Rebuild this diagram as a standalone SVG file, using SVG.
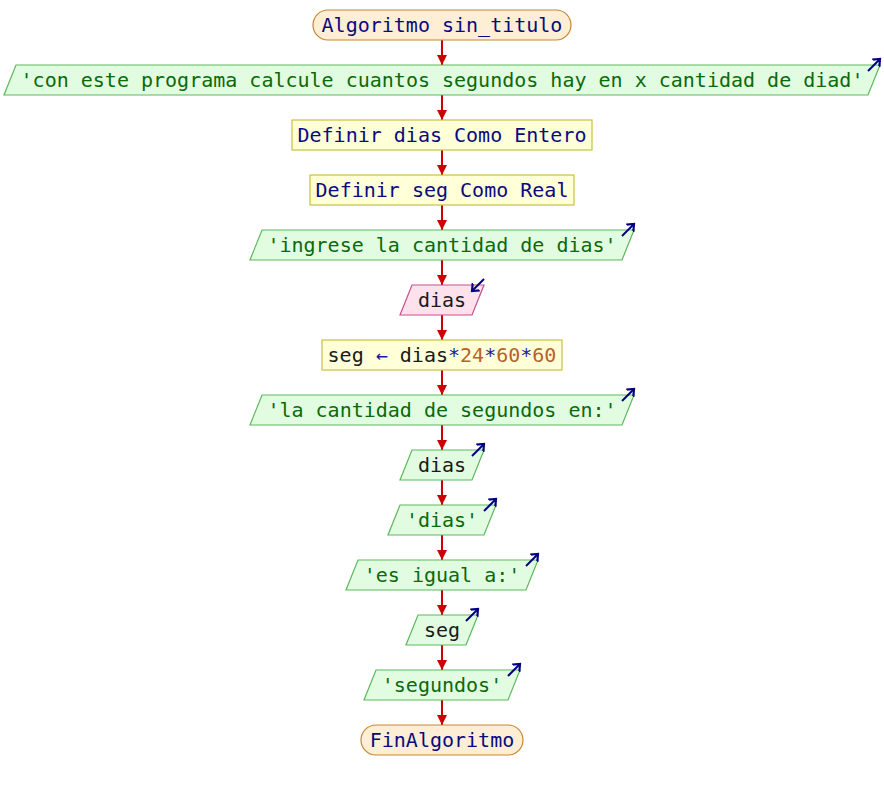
<svg xmlns="http://www.w3.org/2000/svg" width="884" height="790" viewBox="0 0 884 790">
<defs>
<style>
text{font-family:"DejaVu Sans Mono","Liberation Mono",monospace;font-size:20px;text-anchor:middle}
.term{fill:#ffeed6;stroke:#c8862e;stroke-width:1.2}
.proc{fill:#ffffd8;stroke:#c8c040;stroke-width:1.2}
.out{fill:#e2fce2;stroke:#5cb85c;stroke-width:1.2}
.in{fill:#fde2ee;stroke:#c8508a;stroke-width:1.2}
.kw{fill:#0a0a80}
.str{fill:#0a6a0a}
.var{fill:#1a1a1a}
.num{fill:#b8622a}
.op{fill:#1a1aa0}
.flow{stroke:#cc0000;stroke-width:2;fill:none}
.io{stroke:#000080;stroke-width:2;fill:none;marker-end:url(#ioh)}
</style>
<marker id="ah" markerWidth="12" markerHeight="10" refX="10" refY="5" orient="auto" markerUnits="userSpaceOnUse">
<path d="M0,0 L10,5 L0,10 Z" fill="#cc0000"/>
</marker>
<marker id="ioh" markerWidth="12" markerHeight="12" refX="6" refY="6" orient="auto" markerUnits="userSpaceOnUse">
<path d="M0,1 L6,6 L0,11" fill="none" stroke="#000080" stroke-width="2.2"/>
</marker>
</defs>
<rect width="884" height="790" fill="#ffffff"/>
<g id="connectors">
<line class="flow" x1="442" y1="40" x2="442" y2="65" marker-end="url(#ah)"/>
<line class="flow" x1="442" y1="95" x2="442" y2="120" marker-end="url(#ah)"/>
<line class="flow" x1="442" y1="150" x2="442" y2="175" marker-end="url(#ah)"/>
<line class="flow" x1="442" y1="205" x2="442" y2="230" marker-end="url(#ah)"/>
<line class="flow" x1="442" y1="260" x2="442" y2="285" marker-end="url(#ah)"/>
<line class="flow" x1="442" y1="315" x2="442" y2="340" marker-end="url(#ah)"/>
<line class="flow" x1="442" y1="370" x2="442" y2="395" marker-end="url(#ah)"/>
<line class="flow" x1="442" y1="425" x2="442" y2="450" marker-end="url(#ah)"/>
<line class="flow" x1="442" y1="480" x2="442" y2="505" marker-end="url(#ah)"/>
<line class="flow" x1="442" y1="535" x2="442" y2="560" marker-end="url(#ah)"/>
<line class="flow" x1="442" y1="590" x2="442" y2="615" marker-end="url(#ah)"/>
<line class="flow" x1="442" y1="645" x2="442" y2="670" marker-end="url(#ah)"/>
<line class="flow" x1="442" y1="700" x2="442" y2="725" marker-end="url(#ah)"/>
</g>
<g id="n_start">
<rect class="term" x="313" y="10" width="258" height="30" rx="15" ry="15"/>
<text x="442" y="32" class="kw">Algoritmo sin_titulo</text>
</g>
<g id="n_out1">
<polygon class="out" points="16,65 880,65 868,95 4,95"/>
<text x="442" y="87" class="str">'con este programa calcule cuantos segundos hay en x cantidad de diad'</text>
<line class="io" x1="868" y1="71" x2="880" y2="59"/>
</g>
<g id="n_def1">
<rect class="proc" x="292" y="120" width="300" height="30"/>
<text x="442" y="142" class="kw">Definir dias Como Entero</text>
</g>
<g id="n_def2">
<rect class="proc" x="310" y="175" width="264" height="30"/>
<text x="442" y="197" class="kw">Definir seg Como Real</text>
</g>
<g id="n_out2">
<polygon class="out" points="262,230 634,230 622,260 250,260"/>
<text x="442" y="252" class="str">'ingrese la cantidad de dias'</text>
<line class="io" x1="622" y1="236" x2="634" y2="224"/>
</g>
<g id="n_in1">
<polygon class="in" points="412,285 484,285 472,315 400,315"/>
<text x="442" y="307" class="var">dias</text>
<line class="io" x1="484" y1="279" x2="472" y2="291"/>
</g>
<g id="n_assign">
<rect class="proc" x="322" y="340" width="240" height="30"/>
<text x="442" y="362"><tspan class="var">seg </tspan><tspan class="op">←</tspan><tspan class="var"> dias</tspan><tspan class="op">*</tspan><tspan class="num">24</tspan><tspan class="op">*</tspan><tspan class="num">60</tspan><tspan class="op">*</tspan><tspan class="num">60</tspan></text>
</g>
<g id="n_out3">
<polygon class="out" points="262,395 634,395 622,425 250,425"/>
<text x="442" y="417" class="str">'la cantidad de segundos en:'</text>
<line class="io" x1="622" y1="401" x2="634" y2="389"/>
</g>
<g id="n_out4">
<polygon class="out" points="412,450 484,450 472,480 400,480"/>
<text x="442" y="472" class="var">dias</text>
<line class="io" x1="472" y1="456" x2="484" y2="444"/>
</g>
<g id="n_out5">
<polygon class="out" points="400,505 496,505 484,535 388,535"/>
<text x="442" y="527" class="str">'dias'</text>
<line class="io" x1="484" y1="511" x2="496" y2="499"/>
</g>
<g id="n_out6">
<polygon class="out" points="358,560 538,560 526,590 346,590"/>
<text x="442" y="582" class="str">'es igual a:'</text>
<line class="io" x1="526" y1="566" x2="538" y2="554"/>
</g>
<g id="n_out7">
<polygon class="out" points="418,615 478,615 466,645 406,645"/>
<text x="442" y="637" class="var">seg</text>
<line class="io" x1="466" y1="621" x2="478" y2="609"/>
</g>
<g id="n_out8">
<polygon class="out" points="376,670 520,670 508,700 364,700"/>
<text x="442" y="692" class="str">'segundos'</text>
<line class="io" x1="508" y1="676" x2="520" y2="664"/>
</g>
<g id="n_end">
<rect class="term" x="361" y="725" width="162" height="30" rx="15" ry="15"/>
<text x="442" y="747" class="kw">FinAlgoritmo</text>
</g>
</svg>
